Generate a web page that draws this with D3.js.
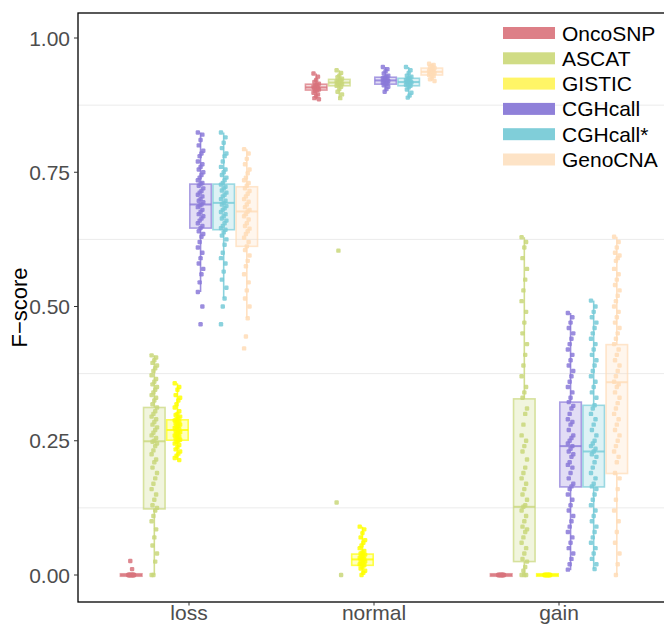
<!DOCTYPE html>
<html lang="en">
<head>
<meta charset="UTF-8">
<script src="https://d3js.org/d3.v7.min.js"></script>
<style>
    body { margin: 0; background: #fff; }
    .tick-label { font: 21px "Liberation Sans", Arial, sans-serif; fill: #4d4d4d; }
    .x-label { font: 21px "Liberation Sans", Arial, sans-serif; fill: #4d4d4d; }
    .axis-title { font: 22px "Liberation Sans", Arial, sans-serif; fill: #000; }
    .legend-text { font: 21px "Liberation Sans", Arial, sans-serif; fill: #000; }
</style>
<title>F-score by method</title>
</head>
<body>
<div id="chart"></div>
<script>
// Data
const categories = ["loss", "normal", "gain"];
const methods = ["OncoSNP", "ASCAT", "GISTIC", "CGHcall", "CGHcall*", "GenoCNA"];
const colors = ["#d8737c", "#c9d77a", "#ffff00", "#8a79d8", "#76cad7", "#ffdcb6"];
const keyColors = ["#dd7f87", "#d0dc85", "#fff566", "#8f80d9", "#80ced9", "#fde3c6"];
const yTicks = [0, 0.25, 0.5, 0.75, 1];
const minorTicks = [0.125, 0.375, 0.625, 0.875];

// [lower whisker, q1, median, q3, upper whisker] per method
const lossBoxes = [
    [0, 0, 0, 0, 0],
    [0, 0.123, 0.249, 0.312, 0.409],
    [0.214, 0.251, 0.270, 0.289, 0.357],
    [0.527, 0.646, 0.690, 0.728, 0.824],
    [0.515, 0.643, 0.693, 0.728, 0.824],
    [0.478, 0.612, 0.677, 0.723, 0.793]
];
const normalBoxes = [
    [0.886, 0.903, 0.908, 0.914, 0.934],
    [0.888, 0.911, 0.917, 0.923, 0.940],
    [0, 0.018, 0.029, 0.039, 0.090],
    [0.900, 0.914, 0.921, 0.927, 0.946],
    [0.889, 0.911, 0.918, 0.925, 0.946],
    [0.920, 0.931, 0.937, 0.944, 0.952]
];
const gainBoxes = [
    [0, 0, 0, 0, 0],
    [0, 0.025, 0.127, 0.328, 0.629],
    [0, 0, 0, 0, 0],
    [0.009, 0.164, 0.240, 0.322, 0.488],
    [0.011, 0.164, 0.230, 0.316, 0.511],
    [0, 0.189, 0.359, 0.429, 0.630]
];

const lossPoints = [
    [0, 0, 0, 0, 0, 0, 0, 0, 0, 0, 0, 0, 0.011, 0.026],
    [0.409, 0.405, 0.40, 0.395, 0.39, 0.385, 0.38, 0.372, 0.365, 0.36, 0.355, 0.35, 0.345, 0.34, 0.335, 0.33, 0.325, 0.318, 0.312, 0.305, 0.30, 0.295, 0.29, 0.285, 0.28, 0.275, 0.27, 0.265, 0.26, 0.255, 0.25, 0.248, 0.245, 0.24, 0.232, 0.225, 0.215, 0.21, 0.20, 0.19, 0.18, 0.17, 0.16, 0.15, 0.14, 0.13, 0.125, 0.12, 0.11, 0.10, 0.085, 0.07, 0.055, 0.04, 0.025, 0, 0],
    [0.357, 0.35, 0.345, 0.335, 0.33, 0.325, 0.318, 0.312, 0.305, 0.30, 0.298, 0.295, 0.292, 0.29, 0.288, 0.286, 0.284, 0.282, 0.28, 0.278, 0.276, 0.274, 0.272, 0.27, 0.268, 0.266, 0.264, 0.262, 0.26, 0.258, 0.256, 0.254, 0.252, 0.25, 0.248, 0.245, 0.242, 0.238, 0.234, 0.23, 0.226, 0.222, 0.218, 0.214],
    [0.824, 0.82, 0.81, 0.80, 0.79, 0.785, 0.78, 0.77, 0.765, 0.76, 0.755, 0.75, 0.745, 0.74, 0.735, 0.73, 0.728, 0.725, 0.72, 0.715, 0.712, 0.708, 0.705, 0.70, 0.697, 0.694, 0.69, 0.688, 0.685, 0.68, 0.676, 0.672, 0.668, 0.664, 0.66, 0.655, 0.65, 0.646, 0.64, 0.635, 0.63, 0.62, 0.61, 0.60, 0.59, 0.58, 0.57, 0.56, 0.545, 0.527, 0.50, 0.467],
    [0.824, 0.815, 0.805, 0.795, 0.785, 0.78, 0.77, 0.76, 0.755, 0.75, 0.745, 0.74, 0.735, 0.73, 0.727, 0.723, 0.72, 0.716, 0.712, 0.708, 0.705, 0.70, 0.697, 0.693, 0.69, 0.687, 0.683, 0.68, 0.676, 0.672, 0.668, 0.664, 0.66, 0.655, 0.65, 0.646, 0.643, 0.638, 0.632, 0.625, 0.615, 0.60, 0.59, 0.58, 0.565, 0.55, 0.535, 0.515, 0.50, 0.467],
    [0.793, 0.785, 0.775, 0.765, 0.755, 0.748, 0.74, 0.735, 0.73, 0.725, 0.72, 0.715, 0.71, 0.705, 0.70, 0.695, 0.69, 0.685, 0.68, 0.677, 0.672, 0.668, 0.662, 0.655, 0.65, 0.645, 0.64, 0.635, 0.628, 0.62, 0.612, 0.605, 0.595, 0.585, 0.575, 0.56, 0.545, 0.53, 0.515, 0.50, 0.478, 0.444, 0.422]
];
const normalPoints = [
    [0.934, 0.928, 0.922, 0.918, 0.915, 0.913, 0.911, 0.909, 0.908, 0.907, 0.906, 0.904, 0.903, 0.901, 0.898, 0.895, 0.892, 0.888, 0.886],
    [0.94, 0.935, 0.93, 0.927, 0.924, 0.922, 0.92, 0.919, 0.918, 0.917, 0.916, 0.915, 0.914, 0.913, 0.911, 0.909, 0.905, 0.90, 0.895, 0.888, 0.604, 0.135, 0],
    [0.09, 0.085, 0.078, 0.07, 0.065, 0.06, 0.055, 0.05, 0.045, 0.042, 0.04, 0.038, 0.036, 0.034, 0.032, 0.03, 0.029, 0.027, 0.025, 0.023, 0.021, 0.02, 0.018, 0.015, 0.012, 0.008, 0.004, 0],
    [0.946, 0.942, 0.938, 0.934, 0.93, 0.928, 0.926, 0.925, 0.923, 0.922, 0.921, 0.92, 0.919, 0.918, 0.917, 0.915, 0.914, 0.912, 0.909, 0.905, 0.90],
    [0.946, 0.94, 0.935, 0.93, 0.928, 0.926, 0.924, 0.922, 0.92, 0.919, 0.918, 0.917, 0.916, 0.915, 0.913, 0.911, 0.908, 0.904, 0.898, 0.893, 0.889],
    [0.952, 0.95, 0.948, 0.946, 0.944, 0.942, 0.94, 0.939, 0.938, 0.937, 0.936, 0.935, 0.934, 0.933, 0.931, 0.929, 0.926, 0.923, 0.92]
];
const gainPoints = [
    [0, 0, 0, 0, 0, 0, 0, 0, 0, 0],
    [0.629, 0.62, 0.61, 0.59, 0.57, 0.55, 0.53, 0.51, 0.49, 0.47, 0.45, 0.43, 0.41, 0.39, 0.37, 0.35, 0.34, 0.33, 0.31, 0.30, 0.28, 0.26, 0.25, 0.24, 0.23, 0.215, 0.20, 0.19, 0.18, 0.17, 0.16, 0.15, 0.14, 0.13, 0.127, 0.12, 0.11, 0.10, 0.09, 0.085, 0.08, 0.07, 0.06, 0.05, 0.04, 0.03, 0.025, 0.015, 0.008, 0, 0, 0],
    [0, 0, 0, 0, 0, 0, 0, 0, 0, 0],
    [0.488, 0.48, 0.47, 0.46, 0.45, 0.44, 0.43, 0.42, 0.41, 0.40, 0.39, 0.38, 0.37, 0.36, 0.35, 0.34, 0.33, 0.322, 0.315, 0.31, 0.30, 0.29, 0.285, 0.28, 0.27, 0.26, 0.255, 0.25, 0.245, 0.24, 0.235, 0.23, 0.225, 0.22, 0.21, 0.205, 0.20, 0.19, 0.18, 0.17, 0.165, 0.16, 0.15, 0.14, 0.13, 0.12, 0.11, 0.10, 0.09, 0.08, 0.07, 0.06, 0.05, 0.04, 0.03, 0.02, 0.01],
    [0.511, 0.50, 0.49, 0.48, 0.47, 0.46, 0.45, 0.44, 0.43, 0.42, 0.41, 0.40, 0.39, 0.38, 0.37, 0.36, 0.35, 0.34, 0.33, 0.316, 0.31, 0.30, 0.29, 0.28, 0.27, 0.26, 0.25, 0.245, 0.24, 0.235, 0.23, 0.225, 0.22, 0.21, 0.20, 0.19, 0.18, 0.17, 0.165, 0.16, 0.15, 0.14, 0.13, 0.12, 0.11, 0.10, 0.09, 0.08, 0.07, 0.06, 0.05, 0.04, 0.03, 0.02, 0.011],
    [0.63, 0.62, 0.61, 0.60, 0.595, 0.59, 0.585, 0.57, 0.56, 0.55, 0.54, 0.53, 0.52, 0.51, 0.50, 0.49, 0.48, 0.47, 0.46, 0.45, 0.44, 0.43, 0.42, 0.41, 0.40, 0.39, 0.38, 0.37, 0.36, 0.355, 0.35, 0.34, 0.33, 0.32, 0.31, 0.30, 0.29, 0.28, 0.27, 0.26, 0.25, 0.24, 0.23, 0.22, 0.21, 0.19, 0.18, 0.16, 0.14, 0.12, 0.10, 0.08, 0.06, 0.04, 0.02, 0]
];

const boxesByCat = { loss: lossBoxes, normal: normalBoxes, gain: gainBoxes };
const pointsByCat = { loss: lossPoints, normal: normalPoints, gain: gainPoints };

// Dimensions
const width = 664, height = 626;
const panel = { left: 78, top: 13, right: 670, bottom: 602 };

const svg = d3.select("#chart").append("svg")
    .attr("width", width)
    .attr("height", height);

// Scales
const xScale = d3.scaleBand()
    .domain(categories)
    .range([panel.left, panel.right])
    .paddingInner(0)
    .paddingOuter(0.1);

const dodge = d3.scaleBand()
    .domain(methods)
    .range([-xScale.bandwidth() * 0.375, xScale.bandwidth() * 0.375]);

const yScale = d3.scaleLinear()
    .domain([0, 1])
    .range([575, 38]);

const colorScale = d3.scaleOrdinal().domain(methods).range(colors);

// Grid (minor lines only)
svg.append("g").selectAll("line")
    .data(minorTicks)
    .join("line")
    .attr("x1", panel.left).attr("x2", panel.right)
    .attr("y1", d => yScale(d)).attr("y2", d => yScale(d))
    .attr("stroke", "#ebebeb")
    .attr("stroke-width", 1);

// Boxes and points
const plot = svg.append("g");
categories.forEach(cat => {
    methods.forEach((m, i) => {
        const [lo, q1, med, q3, hi] = boxesByCat[cat][i];
        const cx = xScale(cat) + xScale.bandwidth() / 2 + dodge(m) + dodge.bandwidth() / 2;
        const bw = dodge.bandwidth();
        const col = colorScale(m);
        const g = plot.append("g");

        // whiskers
        g.append("line")
            .attr("x1", cx).attr("x2", cx)
            .attr("y1", yScale(hi)).attr("y2", yScale(q3))
            .attr("stroke", col).attr("stroke-width", 1.6).attr("stroke-opacity", 0.85);
        g.append("line")
            .attr("x1", cx).attr("x2", cx)
            .attr("y1", yScale(q1)).attr("y2", yScale(lo))
            .attr("stroke", col).attr("stroke-width", 1.6).attr("stroke-opacity", 0.85);

        // box
        const h = Math.max(yScale(q1) - yScale(q3), 2.5);
        g.append("rect")
            .attr("x", cx - bw / 2 + 0.8)
            .attr("y", (yScale(q1) + yScale(q3)) / 2 - h / 2)
            .attr("width", bw - 1.6)
            .attr("height", h)
            .attr("fill", col).attr("fill-opacity", 0.25)
            .attr("stroke", col).attr("stroke-opacity", 0.7).attr("stroke-width", 1.6);
        g.append("line")
            .attr("x1", cx - bw / 2 + 0.8).attr("x2", cx + bw / 2 - 0.8)
            .attr("y1", yScale(med)).attr("y2", yScale(med))
            .attr("stroke", col).attr("stroke-opacity", 0.8).attr("stroke-width", 2);

        // jittered points
        g.selectAll("rect.pt")
            .data(pointsByCat[cat][i])
            .join("rect")
            .attr("class", "pt")
            .attr("x", (d, j) => cx + ((j * 5) % 7 - 3) * 0.9 - 2.2)
            .attr("y", d => yScale(d) - 2.2)
            .attr("width", 4.4).attr("height", 4.4)
            .attr("rx", 1.2)
            .attr("fill", col)
            .attr("fill-opacity", 0.85);
    });
});

// Panel border
svg.append("rect")
    .attr("x", panel.left).attr("y", panel.top)
    .attr("width", panel.right - panel.left)
    .attr("height", panel.bottom - panel.top)
    .attr("fill", "none")
    .attr("stroke", "#000")
    .attr("stroke-width", 1.3);

// Y axis ticks and labels
const yAxis = svg.append("g");
yAxis.selectAll("line")
    .data(yTicks)
    .join("line")
    .attr("x1", panel.left - 4).attr("x2", panel.left)
    .attr("y1", d => yScale(d)).attr("y2", d => yScale(d))
    .attr("stroke", "#333").attr("stroke-width", 1);
yAxis.selectAll("text")
    .data(yTicks)
    .join("text")
    .attr("class", "tick-label")
    .attr("x", panel.left - 8)
    .attr("y", d => yScale(d))
    .attr("dy", "0.36em")
    .attr("text-anchor", "end")
    .text(d3.format(".2f"));

// X axis ticks and labels
const xAxis = svg.append("g");
xAxis.selectAll("line")
    .data(categories)
    .join("line")
    .attr("x1", d => xScale(d) + xScale.bandwidth() / 2)
    .attr("x2", d => xScale(d) + xScale.bandwidth() / 2)
    .attr("y1", panel.bottom).attr("y2", panel.bottom + 3.5)
    .attr("stroke", "#333").attr("stroke-width", 1);
xAxis.selectAll("text")
    .data(categories)
    .join("text")
    .attr("class", "x-label")
    .attr("x", d => xScale(d) + xScale.bandwidth() / 2)
    .attr("y", panel.bottom + 18)
    .attr("text-anchor", "middle")
    .text(d => d);

svg.append("text")
    .attr("class", "axis-title")
    .attr("transform", `translate(27, ${(panel.top + panel.bottom) / 2}) rotate(-90)`)
    .attr("text-anchor", "middle")
    .text("F\u2212score");

// Legend
const legend = svg.append("g").attr("transform", "translate(503, 33)");
methods.forEach((m, i) => {
    legend.append("rect")
        .attr("x", 0).attr("y", i * 25.3 - 6)
        .attr("width", 52).attr("height", 12)
        .attr("fill", keyColors[i]);
    legend.append("text")
        .attr("class", "legend-text")
        .attr("x", 59).attr("y", i * 25.3)
        .attr("dy", "0.36em")
        .text(m);
});
</script>
</body>
</html>
